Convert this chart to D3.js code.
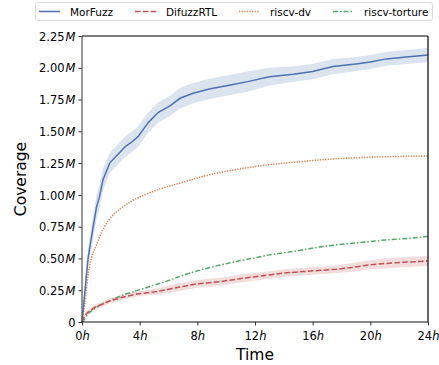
<!DOCTYPE html>
<html>
<head>
<meta charset="utf-8">
<script src="https://cdn.jsdelivr.net/npm/d3@7"></script>
<style>
  body { margin: 0; background: #fff; }
  text { font-family: "DejaVu Sans", sans-serif; fill: #000; }
</style>
</head>
<body>
<svg id="chart" width="439" height="365"></svg>
<script>
"use strict";

// hours since start
var morfuzzHours = [0, 0.1, 0.25, 0.42, 0.76, 1.0, 1.22, 1.46, 1.92, 2.5, 3.0, 3.5, 3.9, 4.6, 5.3, 6.1, 6.8, 7.7, 8.9, 10.3, 11.65, 13, 14.65, 16, 17.4, 19, 20, 21.1, 22.5, 24];
var morfuzzValues = [0, 0.12, 0.30, 0.50, 0.74, 0.90, 0.99, 1.12, 1.25, 1.32, 1.38, 1.42, 1.46, 1.57, 1.65, 1.70, 1.76, 1.80, 1.835, 1.865, 1.895, 1.93, 1.95, 1.97, 2.01, 2.03, 2.045, 2.07, 2.085, 2.10];
var morfuzzSpread = [0, 0.05, 0.07, 0.08, 0.09, 0.1, 0.1, 0.09, 0.08, 0.08, 0.08, 0.08, 0.08, 0.08, 0.08, 0.08, 0.08, 0.08, 0.08, 0.08, 0.08, 0.07, 0.06, 0.06, 0.06, 0.055, 0.055, 0.055, 0.055, 0.055];

var difuzzHours = [0, 0.1, 0.33, 0.9, 1.94, 2.8, 3.8, 4.5, 5.2, 6.1, 7, 7.95, 9.6, 11.2, 13, 14, 15.35, 17.66, 18.8, 19.97, 21, 22.3, 24];
var difuzzValues = [0, 0.03, 0.069, 0.116, 0.166, 0.195, 0.22, 0.23, 0.239, 0.26, 0.28, 0.30, 0.318, 0.345, 0.37, 0.385, 0.397, 0.415, 0.43, 0.45, 0.46, 0.47, 0.48];
var difuzzSpread = [0, 0.01, 0.02, 0.02, 0.02, 0.02, 0.02, 0.02, 0.025, 0.03, 0.03, 0.03, 0.03, 0.03, 0.03, 0.03, 0.03, 0.03, 0.035, 0.035, 0.04, 0.04, 0.04];

var dvHours = [0, 0.1, 0.2, 0.35, 0.5, 0.65, 0.99, 1.22, 1.57, 2.03, 2.73, 3.42, 4.35, 5.5, 6.66, 8.4, 10, 11.65, 13, 15, 16.5, 18.6, 21, 24];
var dvValues = [0, 0.07, 0.15, 0.30, 0.42, 0.50, 0.60, 0.67, 0.75, 0.826, 0.897, 0.95, 1.0, 1.05, 1.088, 1.146, 1.185, 1.217, 1.238, 1.26, 1.275, 1.29, 1.30, 1.305];

var tortureHours = [0, 0.1, 0.4, 0.9, 1.94, 2.8, 3.8, 5, 6.1, 7.2, 8.4, 9.5, 10.7, 12, 13, 14.2, 15.35, 16.5, 17.66, 19, 19.97, 21, 22.3, 24];
var tortureValues = [0, 0.01, 0.06, 0.108, 0.168, 0.21, 0.247, 0.29, 0.33, 0.375, 0.415, 0.446, 0.476, 0.505, 0.528, 0.548, 0.568, 0.59, 0.607, 0.622, 0.633, 0.645, 0.655, 0.673];

var xTicks = [0, 4, 8, 12, 16, 20, 24];
var yTicks = [0, 0.25, 0.5, 0.75, 1.0, 1.25, 1.5, 1.75, 2.0, 2.25];

(function() {
    var svg = d3.select("#chart");
    var margin = {left: 82, right: 428, top: 36, bottom: 322};

    var x = d3.scaleLinear().domain([0, 24]).range([margin.left, margin.right]);
    var y = d3.scaleLinear().domain([0, 2.25]).range([margin.bottom, margin.top]);

    function zip(hours, values, spread) {
        return hours.map(function(h, i) {
            return {h: h, v: values[i], s: spread ? spread[i] : 0};
        });
    }

    var series = [
        {name: "MorFuzz", data: zip(morfuzzHours, morfuzzValues, morfuzzSpread), color: "#4c72b0", band: "rgba(76,114,176,0.2)", dash: null, curve: d3.curveLinear},
        {name: "DifuzzRTL", data: zip(difuzzHours, difuzzValues, difuzzSpread), color: "#c44e52", band: "rgba(196,78,82,0.2)", dash: "5.5,2.4", curve: d3.curveLinear},
        {name: "riscv-dv", data: zip(dvHours, dvValues), color: "#dd8452", band: null, dash: "1.3,1.3", curve: d3.curveMonotoneX},
        {name: "riscv-torture", data: zip(tortureHours, tortureValues), color: "#55a868", band: null, dash: "5,2,1.5,2", curve: d3.curveMonotoneX}
    ];

    var area = d3.area()
        .x(function(d) { return x(d.h); })
        .y0(function(d) { return y(Math.max(0, d.v - d.s)); })
        .y1(function(d) { return y(d.v + d.s); });

    var plot = svg.append("g");

    series.forEach(function(s) {
        if (s.band) {
            plot.append("path")
                .datum(s.data)
                .attr("d", area)
                .attr("fill", s.band)
                .attr("stroke", "none");
        }
    });

    // draw in reverse so MorFuzz ends up on top
    series.slice().reverse().forEach(function(s) {
        var line = d3.line()
            .curve(s.curve)
            .x(function(d) { return x(d.h); })
            .y(function(d) { return y(d.v); });
        plot.append("path")
            .datum(s.data)
            .attr("d", line)
            .attr("fill", "none")
            .attr("stroke", s.color)
            .attr("stroke-width", 1.5)
            .attr("stroke-dasharray", s.dash);
    });

    // axes
    var xAxis = svg.append("g")
        .attr("transform", "translate(0," + margin.bottom + ")")
        .call(d3.axisBottom(x).tickValues(xTicks).tickSize(3.5).tickFormat(""));
    var yAxis = svg.append("g")
        .attr("transform", "translate(" + margin.left + ",0)")
        .call(d3.axisLeft(y).tickValues(yTicks).tickSize(3.5).tickFormat(""));

    xAxis.select(".domain").remove();
    yAxis.select(".domain").remove();
    xAxis.selectAll(".tick text").remove();
    yAxis.selectAll(".tick text").remove();
    xAxis.selectAll("line").attr("stroke", "#333");
    yAxis.selectAll("line").attr("stroke", "#333");

    // tick labels with mathtext-style italic units
    xAxis.selectAll(".tick").append("text")
        .attr("y", 17.5)
        .attr("text-anchor", "middle")
        .style("font-size", "11.5px")
        .each(function(d) {
            var t = d3.select(this);
            t.append("tspan").text(d);
            t.append("tspan").style("font-style", "italic").text("h");
        });

    yAxis.selectAll(".tick").append("text")
        .attr("x", -6.5)
        .attr("dy", "0.36em")
        .attr("text-anchor", "end")
        .style("font-size", "11.5px")
        .each(function(d) {
            var t = d3.select(this);
            if (d === 0) { t.text("0"); return; }
            t.append("tspan").text(d.toFixed(2));
            t.append("tspan").attr("dx", 1).style("font-style", "italic").text("M");
        });

    // spines
    svg.append("line").attr("x1", margin.left).attr("x2", margin.left).attr("y1", margin.top).attr("y2", margin.bottom).attr("stroke", "#555").attr("stroke-width", 1.2);
    svg.append("line").attr("x1", margin.left).attr("x2", margin.right).attr("y1", margin.bottom).attr("y2", margin.bottom).attr("stroke", "#111").attr("stroke-width", 1.2);
    svg.append("line").attr("x1", margin.left).attr("x2", margin.right).attr("y1", margin.top).attr("y2", margin.top).attr("stroke", "#000").attr("stroke-width", 1.2);
    svg.append("line").attr("x1", margin.right).attr("x2", margin.right).attr("y1", margin.top).attr("y2", margin.bottom).attr("stroke", "#000").attr("stroke-width", 1.2);

    // axis titles
    svg.append("text")
        .attr("x", (margin.left + margin.right) / 2)
        .attr("y", 360)
        .attr("text-anchor", "middle")
        .style("font-size", "15.5px")
        .text("Time");

    svg.append("text")
        .attr("transform", "translate(26," + ((margin.top + margin.bottom) / 2) + ") rotate(-90)")
        .attr("text-anchor", "middle")
        .style("font-size", "15.5px")
        .text("Coverage");

    // legend
    var legend = svg.append("g");
    legend.append("rect")
        .attr("x", 35.5).attr("y", 2.5)
        .attr("width", 397).attr("height", 18)
        .attr("rx", 2.5)
        .attr("fill", "#fff")
        .attr("stroke", "#d0d0d0")
        .attr("stroke-width", 0.8);

    var legendX = [39, 135, 239, 333];
    series.forEach(function(s, i) {
        var g = legend.append("g").attr("transform", "translate(" + legendX[i] + ",0)");
        g.append("line")
            .attr("x1", 0).attr("x2", 21)
            .attr("y1", 11.5).attr("y2", 11.5)
            .attr("stroke", s.color)
            .attr("stroke-width", 1.5)
            .attr("stroke-dasharray", s.dash);
        g.append("text")
            .attr("x", 31)
            .attr("y", 15.5)
            .style("font-size", "10.5px")
            .text(s.name);
    });
})();
</script>
</body>
</html>
